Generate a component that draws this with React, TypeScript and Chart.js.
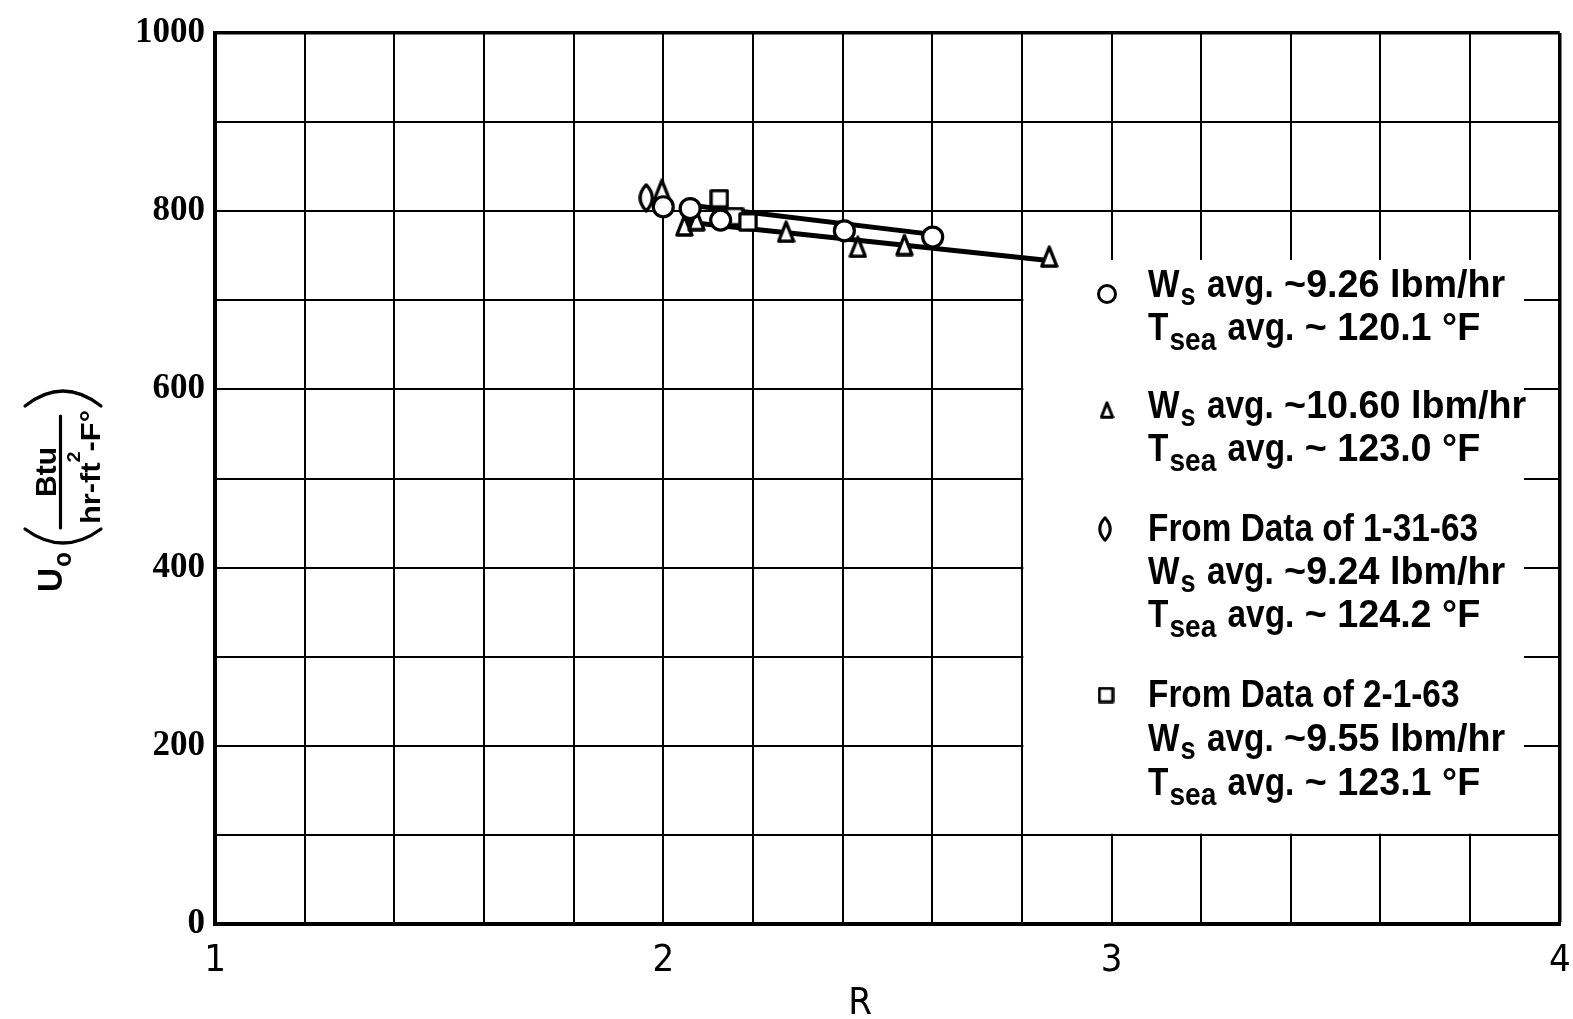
import React, { useEffect, useRef } from 'react';
import { Chart, registerables } from 'chart.js';

Chart.register(...registerables);

// ---- data ----
const circleR = [2.0, 2.06, 2.128, 2.404, 2.601];
const circleU = [805, 803, 790, 778, 771];
const triangleR = [1.997, 2.047, 2.074, 2.274, 2.434, 2.538, 2.861];
const triangleU = [824, 784, 790, 777, 760, 762, 749];
const diamondR = [1.962];
const diamondU = [815];
const squareR = [2.125, 2.159, 2.189];
const squareU = [814, 794, 788];
const upperFitR = [2.07, 2.6];
const upperFitU = [806, 774];
const lowerFitR = [2.05, 2.87];
const lowerFitU = [788, 744];

const xLabelTicks = [1, 2, 3, 4];
const yLabelTicks = [0, 200, 400, 600, 800, 1000];

const legendWs = ['9.26', '10.60', '9.24', '9.55'];
const legendTsea = ['120.1', '123.0', '124.2', '123.1'];
const legendDates = ['', '', '1-31-63', '2-1-63'];

const SANS = '"Liberation Sans", "DejaVu Sans", sans-serif';
const NARROW = '"DejaVu Sans Condensed", "Liberation Sans Narrow", sans-serif';
let SX = 0.86;

const pts = (xs: number[], ys: number[]) => xs.map((x, i) => ({ x, y: ys[i] }));

function makeCanvas(w: number, h: number, draw: (g: CanvasRenderingContext2D) => void) {
  const c = document.createElement('canvas');
  c.width = w;
  c.height = h;
  const g = c.getContext('2d') as CanvasRenderingContext2D;
  g.fillStyle = '#fff';
  g.strokeStyle = '#000';
  g.lineJoin = 'round';
  draw(g);
  return c;
}

function triangleImg(w: number, h: number, lw: number) {
  return makeCanvas(w, h, (g) => {
    g.lineWidth = lw;
    const t = lw / 2 + 0.3;
    g.beginPath();
    g.moveTo(w / 2, t);
    g.lineTo(w - t, h - t);
    g.lineTo(t, h - t);
    g.closePath();
    g.fill();
    g.stroke();
  });
}

function diamondImg(w: number, h: number, lw: number) {
  return makeCanvas(w, h, (g) => {
    g.lineWidth = lw;
    const cx = w / 2;
    const t = lw / 2 + 0.3;
    const half = cx - t;
    g.beginPath();
    g.moveTo(cx, t);
    g.quadraticCurveTo(cx + 2 * half, h / 2, cx, h - t);
    g.quadraticCurveTo(cx - 2 * half, h / 2, cx, t);
    g.closePath();
    g.fill();
    g.stroke();
  });
}

function squareImg(s: number, lw: number) {
  return makeCanvas(s, s, (g) => {
    g.lineWidth = lw;
    const t = lw / 2 + 0.3;
    g.beginPath();
    g.rect(t, t, s - 2 * t, s - 2 * t);
    g.fill();
    g.stroke();
  });
}

function txt(
  ctx: CanvasRenderingContext2D,
  s: string,
  x: number,
  y: number,
  size: number,
  align: 'left' | 'center' | 'right' = 'left',
  sx: number = SX,
  weight: string = 'bold',
  family: string = SANS
) {
  ctx.font = `${weight} ${size}px ${family}`;
  const w = ctx.measureText(s).width * sx;
  let x0 = x;
  if (align === 'center') x0 = x - w / 2;
  else if (align === 'right') x0 = x - w;
  ctx.save();
  ctx.translate(x0, y);
  ctx.scale(sx, 1);
  ctx.textAlign = 'left';
  ctx.textBaseline = 'alphabetic';
  ctx.fillText(s, 0, 0);
  ctx.restore();
  return x0 + w;
}

function measure(ctx: CanvasRenderingContext2D, s: string, size: number, sx: number) {
  ctx.font = `bold ${size}px ${SANS}`;
  return ctx.measureText(s).width * sx;
}

export default function App() {
  const ref = useRef<HTMLCanvasElement | null>(null);

  useEffect(() => {
    const canvas = ref.current;
    if (!canvas) return;

    const triData = triangleImg(19, 23, 3.4);
    const diaData = diamondImg(16, 30, 3.2);
    const sqData = squareImg(20, 3.2);
    const triLeg = triangleImg(15, 18, 3);
    const diaLeg = diamondImg(14, 26, 3);
    const sqLeg = squareImg(17, 3);

    const overlay = {
      id: 'overlay',
      beforeDatasetsDraw(chart: any) {
        const ctx = chart.ctx as CanvasRenderingContext2D;
        const xs = chart.scales.x;
        const ys = chart.scales.y;
        const left = xs.getPixelForValue(2.8) + 1.5;
        const bottom = ys.getPixelForValue(100) - 1.2;
        const top = 260;
        const right = 1524;
        ctx.save();
        ctx.fillStyle = '#fff';
        ctx.fillRect(left, top, right - left, bottom - top);
        ctx.restore();
      },
      afterDraw(chart: any) {
        const ctx = chart.ctx as CanvasRenderingContext2D;
        ctx.save();
        ctx.fillStyle = '#000';
        ctx.strokeStyle = '#000';
        // calibrate horizontal condensation
        ctx.font = `bold 38px ${SANS}`;
        SX = 330 / ctx.measureText('From Data of 1-31-63').width;
        const SX2 = SX * 1.13;

        // ---- legend ----
        const baselines = [[297, 340], [418, 461], [541, 584, 627], [707, 751, 795]];
        const x0 = 1148;
        for (let i = 0; i < 4; i++) {
          const b = baselines[i];
          let k = 0;
          if (legendDates[i]) {
            txt(ctx, 'From Data of ' + legendDates[i], x0, b[k], 38);
            k++;
          }
          let x = txt(ctx, 'W', x0, b[k], 38);
          x = txt(ctx, 's', x + 1, b[k] + 8, 31);
          x = txt(ctx, ' avg.', x + 2, b[k], 38);
          txt(ctx, ' ~' + legendWs[i] + ' lbm/hr', x, b[k], 38, 'left', SX2);
          k++;
          x = txt(ctx, 'T', x0, b[k], 38);
          x = txt(ctx, 'sea', x + 1, b[k] + 10, 32);
          x = txt(ctx, ' avg.', x + 2, b[k], 38);
          txt(ctx, ' ~ ' + legendTsea[i] + ' °F', x, b[k], 38, 'left', SX2);
        }
        // legend markers
        ctx.lineWidth = 3;
        ctx.fillStyle = '#fff';
        ctx.beginPath();
        ctx.arc(1107, 294, 8.5, 0, Math.PI * 2);
        ctx.fill();
        ctx.stroke();
        ctx.drawImage(triLeg, 1107 - triLeg.width / 2, 410 - triLeg.height / 2);
        ctx.drawImage(diaLeg, 1105 - diaLeg.width / 2, 529 - diaLeg.height / 2);
        ctx.drawImage(sqLeg, 1106 - sqLeg.width / 2, 695 - sqLeg.height / 2);
        ctx.fillStyle = '#000';

        // ---- x title ----
        txt(ctx, 'R', 860, 1014, 38, 'center', 1, 'normal', NARROW);

        // ---- y title (rotated): local x = up on screen, local y = right on screen ----
        ctx.save();
        ctx.translate(62, 480);
        ctx.rotate(-Math.PI / 2);
        const ux = txt(ctx, 'U', -112, 0, 35, 'left', 0.95);
        txt(ctx, 'o', ux + 1, 9, 26, 'left', 0.95);
        ctx.lineWidth = 3.2;
        ctx.lineCap = 'round';
        // "("
        ctx.beginPath();
        ctx.moveTo(-49, -37);
        ctx.quadraticCurveTo(-77, 1, -49, 39);
        ctx.stroke();
        // ")"
        ctx.beginPath();
        ctx.moveTo(74, -37);
        ctx.quadraticCurveTo(104, 1, 74, 39);
        ctx.stroke();
        // fraction bar
        ctx.beginPath();
        ctx.moveTo(-48, -1.5);
        ctx.lineTo(64, -1.5);
        ctx.stroke();
        txt(ctx, 'Btu', 8, -6, 30, 'center', 1);
        const dsx = 1.1;
        const w1 = measure(ctx, 'hr-ft', 28, dsx);
        const w2 = measure(ctx, '2', 18, dsx);
        const w3 = measure(ctx, '-F°', 28, dsx);
        let dx = 13 - (w1 + w2 + w3) / 2;
        dx = txt(ctx, 'hr-ft', dx, 38, 28, 'left', dsx);
        dx = txt(ctx, '2', dx, 18, 18, 'left', dsx);
        txt(ctx, '-F°', dx, 38, 28, 'left', dsx);
        ctx.restore();

        ctx.restore();
      },
    };

    const isLabel = (v: number, list: number[]) => list.find((t) => Math.abs(v - t) < 1e-6);

    const chart = new Chart(canvas, {
      type: 'scatter',
      data: {
        datasets: [
          {
            label: 'Ws 9.26',
            data: pts(circleR, circleU),
            pointStyle: 'circle',
            pointRadius: 10,
            borderWidth: 3.2,
            borderColor: '#000',
            backgroundColor: '#fff',
            order: 0,
          } as any,
          {
            label: 'Ws 10.60',
            data: pts(triangleR, triangleU),
            pointStyle: triData,
            pointRadius: 9,
            order: 1,
          } as any,
          {
            label: '1-31-63',
            data: pts(diamondR, diamondU),
            pointStyle: diaData,
            pointRadius: 9,
            order: 2,
          } as any,
          {
            label: '2-1-63',
            data: pts(squareR, squareU),
            pointStyle: sqData,
            pointRadius: 9,
            order: 3,
          } as any,
          {
            label: 'fit upper',
            data: pts(upperFitR, upperFitU),
            showLine: true,
            borderColor: '#000',
            borderWidth: 5,
            pointRadius: 0,
            order: 10,
          } as any,
          {
            label: 'fit lower',
            data: pts(lowerFitR, lowerFitU),
            showLine: true,
            borderColor: '#000',
            borderWidth: 5,
            pointRadius: 0,
            order: 11,
          } as any,
        ],
      },
      options: {
        animation: false,
        responsive: false,
        maintainAspectRatio: false,
        events: [],
        layout: { padding: { top: 33, right: 12, left: 0, bottom: 0 } },
        plugins: {
          legend: { display: false },
          tooltip: { enabled: false },
          title: { display: false },
        },
        scales: {
          x: {
            type: 'linear',
            min: 1,
            max: 4,
            afterFit: (s: any) => {
              s.height = 95;
              s.paddingLeft = 0;
              s.paddingRight = 0;
            },
            afterBuildTicks: (s: any) => {
              s.ticks = Array.from({ length: 16 }, (_, i) => ({ value: 1 + i * 0.2 }));
            },
            grid: {
              color: '#000',
              drawTicks: false,
              lineWidth: (c: any) => (c.tick && Math.abs(c.tick.value - 4) < 1e-6 ? 3.5 : 2),
            },
            border: { color: '#000', width: 4 },
            ticks: {
              color: '#000',
              padding: 14,
              autoSkip: false,
              maxRotation: 0,
              minRotation: 0,
              font: { family: NARROW, size: 38 },
              callback: (v: any) => {
                const t = isLabel(Number(v), xLabelTicks);
                return t === undefined ? '' : String(t);
              },
            },
          },
          y: {
            type: 'linear',
            min: 0,
            max: 1000,
            afterFit: (s: any) => {
              s.width = 215;
              s.paddingTop = 0;
              s.paddingBottom = 0;
            },
            afterBuildTicks: (s: any) => {
              s.ticks = Array.from({ length: 11 }, (_, i) => ({ value: i * 100 }));
            },
            grid: {
              color: '#000',
              drawTicks: false,
              lineWidth: (c: any) => (c.tick && c.tick.value === 1000 ? 3.5 : 2),
            },
            border: { color: '#000', width: 4 },
            ticks: {
              color: '#000',
              padding: 10,
              autoSkip: false,
              font: { family: '"Liberation Serif", serif', size: 35, weight: 'bold' },
              callback: (v: any) => {
                const t = isLabel(Number(v), yLabelTicks);
                return t === undefined ? '' : String(t);
              },
            },
          },
        },
      },
      plugins: [overlay],
    } as any);

    return () => {
      chart.destroy();
    };
  }, []);

  return (
    <div style={{ position: 'absolute', left: 0, top: 0, width: 1573, height: 1019, background: '#fff' }}>
      <canvas ref={ref} width={1573} height={1019} style={{ display: 'block' }} />
    </div>
  );
}
